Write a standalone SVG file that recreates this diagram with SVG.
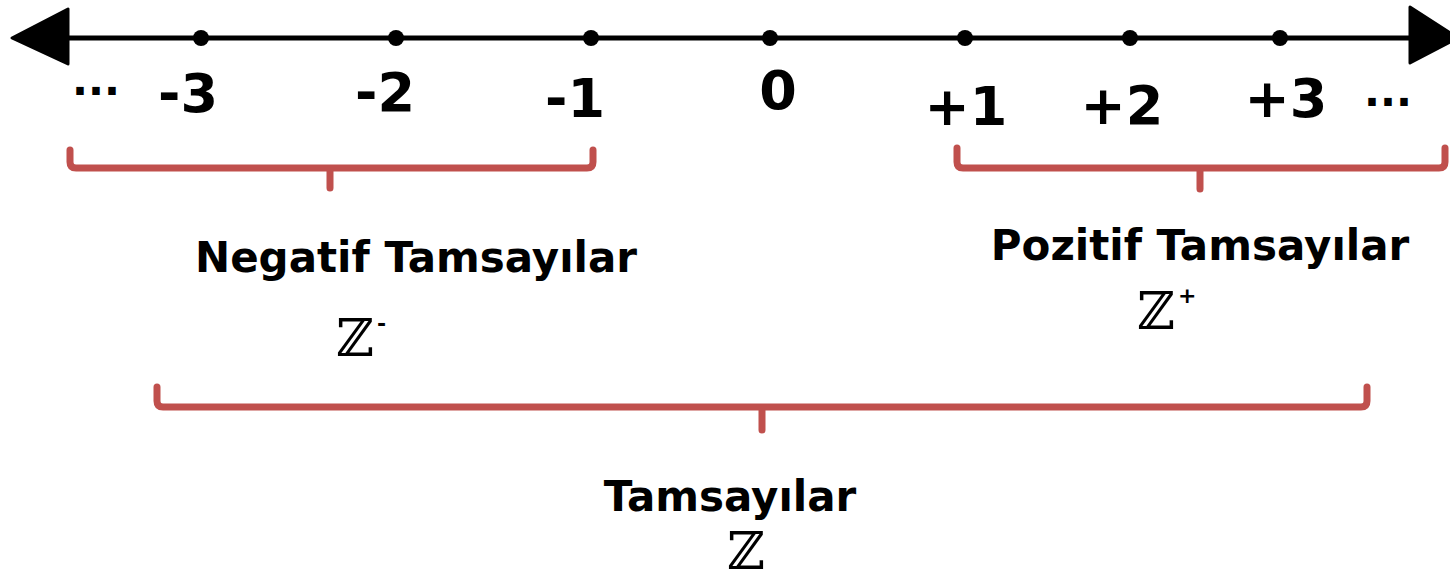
<svg xmlns="http://www.w3.org/2000/svg" width="1450" height="580" viewBox="0 0 1450 580">
<style>
.lbl{font-family:"DejaVu Sans","Liberation Sans",sans-serif;font-weight:bold;fill:#000;text-anchor:middle}
.num{font-size:54px}
.ell{font-size:42px}
.cap{font-size:42px}
.zz{font-family:"DejaVu Serif","Liberation Serif",serif;font-size:52px;fill:#000;text-anchor:middle}
.sup{font-family:"DejaVu Sans",sans-serif;font-weight:bold;font-size:22px;fill:#000}
.brace{fill:none;stroke:#C0504D;stroke-width:7;stroke-linecap:round;stroke-linejoin:round}
.dot{fill:#000}
</style>
<rect width="1450" height="580" fill="#fff"/>
<g id="axis">
<line x1="60" y1="38" x2="1412" y2="38" stroke="#000" stroke-width="5"/>
<polygon points="12,38 68,9 68,64" fill="#000" stroke="#000" stroke-width="3" stroke-linejoin="round"/>
<polygon points="1458,38 1410,7 1410,63" fill="#000" stroke="#000" stroke-width="3" stroke-linejoin="round"/>
</g>
<g id="ticks">
<circle class="dot" cx="201" cy="38" r="8"/>
<circle class="dot" cx="396" cy="38" r="8"/>
<circle class="dot" cx="591" cy="38" r="8"/>
<circle class="dot" cx="770" cy="38" r="8"/>
<circle class="dot" cx="965" cy="38" r="8"/>
<circle class="dot" cx="1130" cy="38" r="8"/>
<circle class="dot" cx="1280" cy="38" r="8"/>
</g>
<g id="numbers">
<text class="lbl ell" x="96" y="95">...</text>
<text class="lbl num" x="188" y="112">-3</text>
<text class="lbl num" x="385" y="111">-2</text>
<text class="lbl num" x="575" y="117">-1</text>
<text class="lbl num" x="778" y="109">0</text>
<text class="lbl num" x="966" y="125">+1</text>
<text class="lbl num" x="1122" y="124">+2</text>
<text class="lbl num" x="1286" y="117">+3</text>
<text class="lbl ell" x="1388" y="106">...</text>
</g>
<g id="connectors">
<path class="brace" d="M70,150 V162 Q70,168 76,168 H587 Q593,168 593,162 V150 M330,168 V188"/>
<path class="brace" d="M957,148 V162 Q957,168 963,168 H1439 Q1445,168 1445,162 V148 M1200,168 V189"/>
<path class="brace" d="M157,387 V401 Q157,407 163,407 H1361 Q1367,407 1367,401 V387 M762,407 V430"/>
</g>
<g id="negatif">
<text class="lbl cap" x="416" y="272">Negatif Tamsayılar</text>
<text class="zz" x="355" y="356">ℤ</text>
<text class="sup" x="377" y="331">-</text>
</g>
<g id="pozitif">
<text class="lbl cap" x="1200" y="260">Pozitif Tamsayılar</text>
<text class="zz" x="1156" y="329">ℤ</text>
<text class="sup" x="1178" y="303">+</text>
</g>
<g id="tamsayilar">
<text class="lbl cap" x="730" y="511">Tamsayılar</text>
<text class="zz" x="746" y="569">ℤ</text>
</g>
</svg>
